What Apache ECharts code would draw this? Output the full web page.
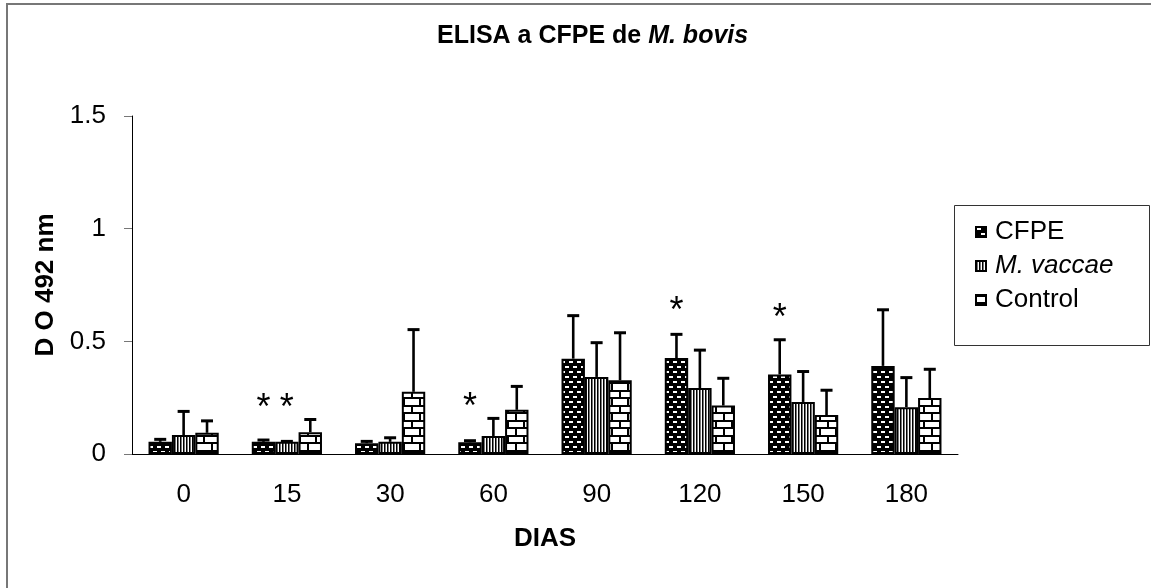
<!DOCTYPE html>
<html>
<head>
<meta charset="utf-8">
<script src="https://cdn.jsdelivr.net/npm/echarts@6/dist/echarts.min.js"></script>
<style>
html,body{margin:0;padding:0;background:#fff;}
#chart{width:1151px;height:588px;}
</style>
</head>
<body>
<div id="chart"></div>
<script>
// ---- data ----
const categories = ['0', '15', '30', '60', '90', '120', '150', '180'];
const seriesNames = ['CFPE', 'M. vaccae', 'Control'];
const cfpe      = [0.054, 0.054, 0.048, 0.052, 0.423, 0.426, 0.353, 0.391];
const cfpeSD    = [0.011, 0.008, 0.008, 0.007, 0.191, 0.105, 0.154, 0.249];
const vaccae    = [0.084, 0.054, 0.054, 0.080, 0.342, 0.293, 0.231, 0.208];
const vaccaeSD  = [0.105, 0.002, 0.018, 0.078, 0.152, 0.168, 0.135, 0.131];
const control   = [0.094, 0.097, 0.276, 0.196, 0.327, 0.215, 0.173, 0.248];
const controlSD = [0.053, 0.056, 0.276, 0.104, 0.211, 0.121, 0.110, 0.128];
// significance marks: [category index, series index, height]
const asterisks = [[1, 0, 0.23], [1, 1, 0.23], [3, 0, 0.236], [5, 0, 0.659], [6, 0, 0.63]];
const yTicks = { min: 0, max: 1.5, interval: 0.5 };

// ---- patterns ----
function makeTile(w, h, draw) {
  const c = document.createElement('canvas');
  c.width = w; c.height = h;
  const ctx = c.getContext('2d');
  draw(ctx);
  return { image: c, repeat: 'repeat' };
}
const patCFPE = makeTile(8, 10, ctx => {
  ctx.fillStyle = '#000'; ctx.fillRect(0, 0, 8, 10);
  ctx.fillStyle = '#fff';
  ctx.fillRect(1, 1, 4, 2);
  ctx.fillRect(5, 6, 3, 2); ctx.fillRect(0, 6, 1, 2);
});
const patVaccae = makeTile(3, 4, ctx => {
  ctx.fillStyle = '#fff'; ctx.fillRect(0, 0, 3, 4);
  ctx.fillStyle = '#000'; ctx.fillRect(0, 0, 1, 4);
  ctx.fillStyle = '#777'; ctx.fillRect(1, 0, 1, 4);
});
const patControl = makeTile(16, 15, ctx => {
  ctx.fillStyle = '#fff'; ctx.fillRect(0, 0, 16, 15);
  ctx.fillStyle = '#000';
  ctx.fillRect(0, 0, 16, 2);
  ctx.fillRect(0, 7, 16, 2);
  ctx.fillRect(11, 0, 2, 7);
  ctx.fillRect(3, 7, 2, 8);
});
const patterns = [patCFPE, patVaccae, patControl];
const means = [cfpe, vaccae, control];
const sds = [cfpeSD, vaccaeSD, controlSD];

const FONT = '"Liberation Sans", Arial, sans-serif';
const GAP = 0.32;

const errData = [];
means.forEach((arr, g) => arr.forEach((v, i) => errData.push([i, v, sds[g][i], g])));

const chart = echarts.init(document.getElementById('chart'), null, { renderer: 'canvas' });

const barSeries = seriesNames.map((name, g) => ({
  name: name,
  type: 'bar',
  data: means[g],
  barGap: '0%',
  barCategoryGap: (GAP * 100) + '%',
  itemStyle: { color: patterns[g], borderColor: '#000', borderWidth: 2 },
  emphasis: { disabled: true },
  z: 2
}));

function offsetX(api, ci, g) {
  const band = api.size([1, 0])[0];
  const bw = band * (1 - GAP) / 3;
  return api.coord([ci, 0])[0] + (g - 1) * bw;
}

chart.setOption({
  animation: false,
  backgroundColor: '#fff',
  title: {
    text: '{a|ELISA a CFPE de }{b|M. bovis}',
    left: 432, top: 19,
    textStyle: {
      rich: {
        a: { fontFamily: FONT, fontWeight: 'bold', fontSize: 25, color: '#000' },
        b: { fontFamily: FONT, fontWeight: 'bold', fontStyle: 'italic', fontSize: 25, color: '#000' }
      }
    }
  },
  grid: { left: 132, right: 193, top: 116, bottom: 134, containLabel: false },
  legend: {
    data: seriesNames,
    orient: 'vertical',
    left: 975, top: 219,
    padding: 0,
    icon: 'rect',
    itemWidth: 10, itemHeight: 10,
    itemGap: 8,
    selectedMode: false,
    formatter: n => n === 'M. vaccae' ? '{i|' + n + '}' : '{n|' + n + '}',
    textStyle: {
      rich: {
        n: { fontFamily: FONT, fontSize: 26, color: '#000', lineHeight: 30, padding: [0, 0, 0, 4] },
        i: { fontFamily: FONT, fontSize: 26, fontStyle: 'italic', color: '#000', lineHeight: 30, padding: [0, 0, 0, 4] }
      }
    }
  },
  xAxis: {
    type: 'category',
    data: categories,
    name: 'DIAS',
    nameLocation: 'middle',
    nameGap: 72,
    nameTextStyle: { fontFamily: FONT, fontWeight: 'bold', fontSize: 26, color: '#000' },
    axisLine: { lineStyle: { color: '#000', width: 1 } },
    axisTick: { length: 7, lineStyle: { color: '#777' } },
    axisLabel: { fontFamily: FONT, fontSize: 26, color: '#000', margin: 28 }
  },
  yAxis: {
    type: 'value',
    min: yTicks.min, max: yTicks.max, interval: yTicks.interval,
    name: 'D O 492 nm',
    nameLocation: 'middle',
    nameGap: 70,
    nameTextStyle: { fontFamily: FONT, fontWeight: 'bold', fontSize: 26, color: '#000' },
    axisLine: { show: true, lineStyle: { color: '#000', width: 1 } },
    axisTick: { show: true, length: 8, lineStyle: { color: '#777' } },
    splitLine: { show: false },
    axisLabel: { fontFamily: FONT, fontSize: 26, color: '#000', margin: 26 }
  },
  series: barSeries.concat([
    {
      name: 'err',
      type: 'custom',
      data: errData,
      encode: { x: 0, y: 1 },
      z: 3,
      silent: true,
      renderItem: function (params, api) {
        const ci = api.value(0), m = api.value(1), sd = api.value(2), g = api.value(3);
        const x = offsetX(api, ci, g);
        const y0 = api.coord([ci, m])[1];
        const y1 = api.coord([ci, m + sd])[1];
        const st = { stroke: '#000', lineWidth: 2.6 };
        return {
          type: 'group',
          children: [
            { type: 'line', shape: { x1: x, y1: y0, x2: x, y2: y1 }, style: st },
            { type: 'line', shape: { x1: x - 6, y1: y1, x2: x + 6, y2: y1 }, style: { stroke: '#000', lineWidth: 3 } }
          ]
        };
      }
    },
    {
      name: 'sig',
      type: 'custom',
      data: asterisks,
      encode: { x: 0, y: 2 },
      z: 4,
      silent: true,
      renderItem: function (params, api) {
        const ci = api.value(0), g = api.value(1), h = api.value(2);
        const x = offsetX(api, ci, g);
        const y = api.coord([ci, h])[1];
        return {
          type: 'text',
          style: {
            text: '*', x: x, y: y + 7,
            align: 'center', verticalAlign: 'middle',
            font: '36px ' + FONT, fill: '#000'
          }
        };
      }
    }
  ]),
  graphic: [
    { type: 'rect', shape: { x: 7, y: 4, width: 1300, height: 800 }, style: { fill: 'none', stroke: '#777', lineWidth: 2 }, silent: true, z: 0 },
    { type: 'rect', shape: { x: 954.5, y: 205.5, width: 195, height: 140 }, style: { fill: 'none', stroke: '#333', lineWidth: 1 }, silent: true, z: 0 }
  ]
});
</script>
</body>
</html>
